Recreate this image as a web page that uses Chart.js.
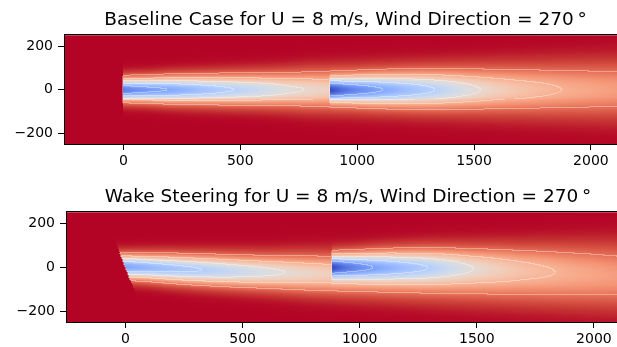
<!DOCTYPE html>
<html><head><meta charset="utf-8">
<script src="https://cdn.jsdelivr.net/npm/chart.js@4.4.1/dist/chart.umd.min.js"></script>
<style>
html,body{margin:0;padding:0;background:#fff;overflow:hidden;width:617px;height:347px;}
.box{position:absolute;left:0;width:640px;}
</style></head><body>
<div class="box" style="top:0;height:175px"><canvas id="c1"></canvas></div>
<div class="box" style="top:175px;height:172px"><canvas id="c2"></canvas></div>
<script>
// ---------------- data ----------------
const freeStream = 8;                 // m/s
const turbineX = [0, 882];            // m
const turbineY = [0, 0];              // m
const yawBaseline = [0, 0];           // deg
const yawSteering = [20, 0];          // deg
const xTicks = [0, 500, 1000, 1500, 2000];
const yTicks = [-200, 0, 200];
const xRange = [-250, 2150];
const yRange = [-250, 250];
const contourLevels = [3, 4, 5, 6, 7]; // m/s

// distance downstream of each rotor (m) at which the wake was read
const wakeStations = [0, 50, 100, 200, 300, 400, 500, 600, 700, 800, 1000, 1200, 1400, 1700, 2200];

// Baseline case: centreline velocity deficit (m/s), wake width (m), wake centre (m)
const baseWake1Deficit = [5.7, 5.45, 5.25, 4.97, 4.62, 4.25, 3.92, 3.6, 3.18, 2.93, 2.5, 2.2, 1.97, 1.7, 1.38];
const baseWake1Sigma   = [35, 36, 37, 40, 42, 44, 46, 48, 51, 55, 59, 63, 67, 73, 83];
const baseWake1Center  = [0, 0, 0, 0, 0, 0, 0, 0, 0, 0, 0, 0, 0, 0, 0];
const baseWake2Deficit = [5.9, 5.4, 5.05, 4.55, 4.1, 3.7, 3.2, 2.6, 2.1, 1.75, 1.2, 0.9, 0.72, 0.55, 0.4];
const baseWake2Sigma   = [38, 40, 42, 47, 50, 53, 55, 57, 60, 62, 68, 74, 80, 88, 100];
const baseWake2Center  = [0, 0, 0, 0, 0, 0, 0, 0, 0, 0, 0, 0, 0, 0, 0];

// Wake steering case
const steerWake1Deficit = [4.9, 4.7, 4.55, 4.3, 4.08, 3.8, 3.5, 3.22, 2.96, 2.75, 2.4, 2.12, 1.9, 1.65, 1.35];
const steerWake1Sigma   = [36, 37, 38, 41, 43, 45, 47, 49, 52, 55, 59, 63, 67, 73, 83];
const steerWake1Center  = [0, -1, -3, -8, -13, -17, -21, -24, -27, -30, -35, -40, -45, -51, -60];
const steerWake2Deficit = [5.9, 5.4, 5.0, 4.45, 4.05, 3.68, 3.15, 2.6, 2.2, 1.85, 1.35, 1.0, 0.78, 0.58, 0.42];
const steerWake2Sigma   = [38, 40, 42, 47, 50, 53, 55, 57, 60, 62, 68, 74, 80, 88, 100];
const steerWake2Center  = [0, 0, 0, 0, 0, 0, 0, 0, 0, 0, 0, 0, 0, 0, 0];

const titleBaseline = 'Baseline Case for U = 8 m/s, Wind Direction = 270\u2009\u00b0';
const titleSteering = 'Wake Steering for U = 8 m/s, Wind Direction = 270\u2009\u00b0';

// ---------------- styling helpers ----------------
const coolwarm = [[59,76,192],[68,90,204],[77,104,215],[87,117,225],[98,130,234],[108,142,241],[119,154,247],[130,165,251],[141,176,254],[152,185,255],[163,194,255],[174,201,253],[184,208,249],[194,213,244],[204,217,238],[213,219,230],[221,221,221],[229,216,209],[236,211,197],[241,204,185],[245,196,173],[247,187,160],[247,177,148],[247,166,135],[244,154,123],[241,141,111],[236,127,99],[229,112,88],[222,96,77],[213,80,66],[203,62,56],[192,40,47],[180,4,38]];

function cmap(t, whiten) {
  t = Math.max(0, Math.min(1, t));
  const f = t * (coolwarm.length - 1);
  const i = Math.min(coolwarm.length - 2, Math.floor(f));
  const a = f - i;
  let r = coolwarm[i][0] + (coolwarm[i+1][0] - coolwarm[i][0]) * a;
  let g = coolwarm[i][1] + (coolwarm[i+1][1] - coolwarm[i][1]) * a;
  let b = coolwarm[i][2] + (coolwarm[i+1][2] - coolwarm[i][2]) * a;
  if (whiten) { const w = 0.35; r += (255 - r) * w; g += (255 - g) * w; b += (255 - b) * w; }
  return 'rgb(' + Math.round(r) + ',' + Math.round(g) + ',' + Math.round(b) + ')';
}

function interp(xs, ys, v) {
  if (v <= xs[0]) return ys[0];
  for (let i = 1; i < xs.length; i++) {
    if (v <= xs[i]) { const a = (v - xs[i-1]) / (xs[i] - xs[i-1]); return ys[i-1] + (ys[i] - ys[i-1]) * a; }
  }
  return ys[ys.length - 1];
}

function buildField(wakes, yaw) {
  const nx = 561, ny = 110;
  const dxc = (xRange[1] - xRange[0]) / nx, dyc = (yRange[1] - yRange[0]) / ny;
  const vals = new Float32Array(nx * ny);
  let vmin = Infinity, vmax = -Infinity;
  for (let j = 0; j < ny; j++) {
    const yc = yRange[1] - (j + 0.5) * dyc;
    for (let i = 0; i < nx; i++) {
      const xc = xRange[0] + (i + 0.5) * dxc;
      let sq = 0;
      for (let k = 0; k < turbineX.length; k++) {
        const tilt = Math.tan(yaw[k] * Math.PI / 180);
        const start = turbineX[k] - (yc - turbineY[k]) * tilt;
        if (xc < start) continue;
        const d = Math.max(0, xc - turbineX[k]);
        const w = wakes[k];
        const a = interp(wakeStations, w.deficit, d);
        const s = interp(wakeStations, w.sigma, d);
        const c = interp(wakeStations, w.center, d);
        const dy = yc - turbineY[k] - c;
        const def = a * Math.exp(-dy * dy / (2 * s * s));
        sq += def * def;
      }
      const u = freeStream - Math.sqrt(sq);
      vals[j * nx + i] = u;
      if (u < vmin) vmin = u; if (u > vmax) vmax = u;
    }
  }
  return { nx, ny, dxc, dyc, vals, vmin, vmax };
}

function levelIndex(u) { let n = 0; for (const l of contourLevels) if (u >= l) n++; return n; }

function fieldPlugin(field) {
  return {
    id: 'wakeField',
    beforeDatasetsDraw(chart) {
      const { ctx, chartArea, scales } = chart;
      const xs = scales.x, ys = scales.y;
      const { nx, ny, dxc, dyc, vals, vmin, vmax } = field;
      ctx.save();
      ctx.beginPath();
      ctx.rect(chartArea.left, chartArea.top, chartArea.width, chartArea.height);
      ctx.clip();
      const xp = [];
      for (let i = 0; i <= nx; i++) xp.push(Math.round(xs.getPixelForValue(xRange[0] + i * dxc)));
      const yp = [];
      for (let j = 0; j <= ny; j++) yp.push(Math.round(ys.getPixelForValue(yRange[1] - j * dyc)));
      for (let j = 0; j < ny; j++) {
        for (let i = 0; i < nx; i++) {
          const u = vals[j * nx + i];
          const li = levelIndex(u);
          let edge = false;
          if (i < nx - 1 && levelIndex(vals[j * nx + i + 1]) !== li) edge = true;
          if (j < ny - 1 && levelIndex(vals[(j + 1) * nx + i]) !== li) edge = true;
          const w = xp[i + 1] - xp[i], h = yp[j + 1] - yp[j];
          if (w <= 0 || h <= 0) continue;
          ctx.fillStyle = cmap((u - vmin) / (vmax - vmin), edge);
          ctx.fillRect(xp[i], yp[j], w, h);
        }
      }
      ctx.restore();
    },
    afterDatasetsDraw(chart) {
      const { ctx, chartArea } = chart;
      ctx.save();
      ctx.strokeStyle = '#000';
      ctx.lineWidth = 1;
      ctx.strokeRect(Math.round(chartArea.left) - 0.5, Math.round(chartArea.top) - 0.5,
                     Math.round(chartArea.width) + 1, Math.round(chartArea.height) + 1);
      ctx.restore();
    }
  };
}

const fmt = v => (v < 0 ? '\u2212' + Math.abs(v) : String(v));

function makeChart(id, title, wakes, yaw, L) {
  const field = buildField(wakes, yaw);
  return new Chart(document.getElementById(id), {
    type: 'scatter',
    data: { datasets: [{ data: turbineX.map((x, i) => ({ x, y: turbineY[i] })), pointRadius: 0 }] },
    options: {
      animation: false, responsive: true, maintainAspectRatio: false, devicePixelRatio: 1,
      layout: { padding: { top: L.top, left: 0, right: L.right, bottom: 0 } },
      plugins: {
        legend: { display: false }, tooltip: { enabled: false },
        title: { display: true, text: title, fullSize: false, color: '#000',
                 font: { family: 'DejaVu Sans', size: 18.5, weight: 'normal', lineHeight: 1.2 },
                 padding: { top: 0, bottom: 4 } }
      },
      scales: {
        x: { type: 'linear', min: xRange[0], max: xRange[1],
             afterBuildTicks: s => { s.ticks = xTicks.map(v => ({ value: v })); },
             afterFit: s => { s.height = L.xh; },
             ticks: { color: '#000', font: { family: 'DejaVu Sans', size: 14 }, padding: 3,
                      maxRotation: 0, autoSkip: false, callback: fmt },
             grid: { display: true, drawOnChartArea: false, drawTicks: true, tickLength: 6, color: '#000', lineWidth: 1 },
             border: { display: false } },
        y: { type: 'linear', min: yRange[0], max: yRange[1],
             afterBuildTicks: s => { s.ticks = yTicks.map(v => ({ value: v })); },
             afterFit: s => { s.width = L.yw; },
             ticks: { color: '#000', font: { family: 'DejaVu Sans', size: 14 }, padding: 5, autoSkip: false, callback: fmt },
             grid: { display: true, drawOnChartArea: false, drawTicks: true, tickLength: 7, color: '#000', lineWidth: 1 },
             border: { display: false } }
      }
    },
    plugins: [fieldPlugin(field)]
  });
}

makeChart('c1', titleBaseline,
  [{ deficit: baseWake1Deficit, sigma: baseWake1Sigma, center: baseWake1Center },
   { deficit: baseWake2Deficit, sigma: baseWake2Sigma, center: baseWake2Center }],
  yawBaseline, { top: 9, right: 14, xh: 31, yw: 65 });

makeChart('c2', titleSteering,
  [{ deficit: steerWake1Deficit, sigma: steerWake1Sigma, center: steerWake1Center },
   { deficit: steerWake2Deficit, sigma: steerWake2Sigma, center: steerWake2Center }],
  yawSteering, { top: 11, right: 11, xh: 25, yw: 67 });
</script>
</body></html>
